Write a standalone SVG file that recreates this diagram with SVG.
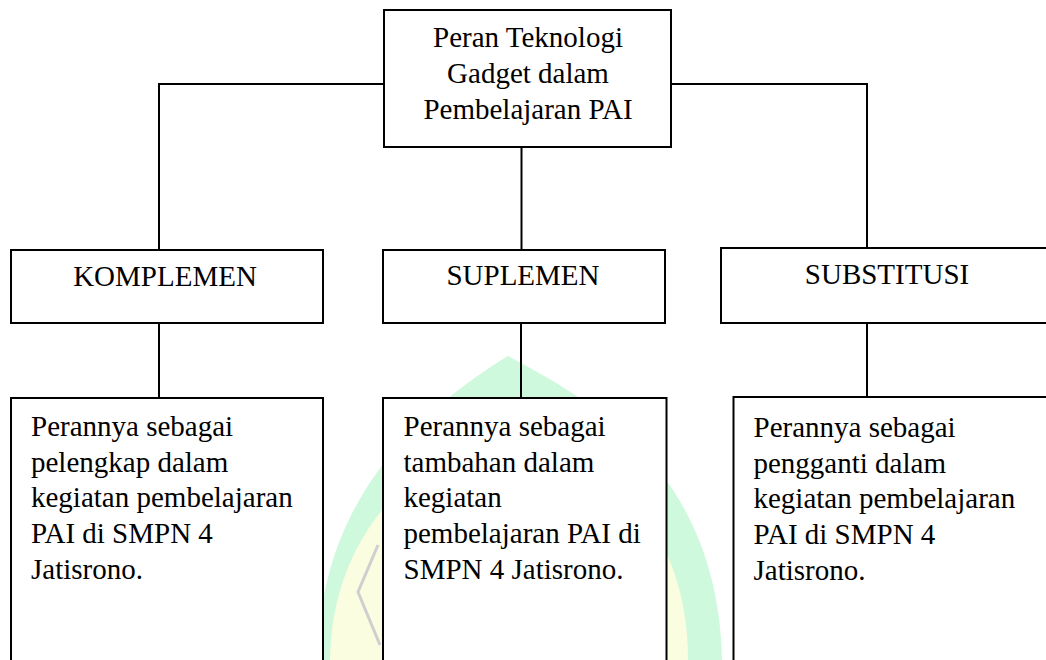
<svg xmlns="http://www.w3.org/2000/svg" width="1046" height="660" viewBox="0 0 1046 660">
<style>
.box{fill:#fff;stroke:#000;stroke-width:2}
.ln{fill:none;stroke:#000;stroke-width:2}
.t{font-family:"Liberation Serif","Times New Roman",serif;font-size:29px;fill:#000}
.c{text-anchor:middle}
</style>
<rect x="0" y="0" width="1046" height="660" fill="#fff"/>
<g id="watermark">
<path d="M508 356 C590 400 718 470 722 660 L318 660 C318 500 420 410 508 356 Z" fill="#cff9dc"/>
<path d="M512 410 C585 450 688 510 688 660 L330 660 C332 520 430 455 512 410 Z" fill="#fafde0"/>
<polyline points="378,545 358,592 380,645" fill="none" stroke="#cfcfcf" stroke-width="3"/>
</g>
<g id="connectors">
<polyline class="ln" points="384,84 159,84 159,250"/>
<polyline class="ln" points="671,84 867,84 867,248"/>
<line class="ln" x1="521.5" y1="147" x2="521.5" y2="250"/>
<line class="ln" x1="159" y1="323" x2="159" y2="398"/>
<line class="ln" x1="521" y1="323" x2="521" y2="398"/>
<line class="ln" x1="867" y1="323" x2="867" y2="397"/>
</g>
<g id="root">
<rect class="box" x="384" y="10" width="287" height="137"/>
<text class="t c" x="528" y="47">Peran Teknologi</text>
<text class="t c" x="528" y="83">Gadget dalam</text>
<text class="t c" x="528" y="119">Pembelajaran PAI</text>
</g>
<g id="komplemen">
<rect class="box" x="11" y="250" width="312" height="73"/>
<text class="t c" x="165" y="285.5">KOMPLEMEN</text>
</g>
<g id="suplemen">
<rect class="box" x="383" y="250" width="282" height="73"/>
<text class="t c" x="523" y="285">SUPLEMEN</text>
</g>
<g id="substitusi">
<rect class="box" x="721" y="248" width="340" height="75"/>
<text class="t c" x="887" y="283.5">SUBSTITUSI</text>
</g>
<g id="desc-komplemen">
<rect class="box" x="11" y="398" width="312" height="280"/>
<text class="t" x="31" y="436">Perannya sebagai</text>
<text class="t" x="31" y="471.7">pelengkap dalam</text>
<text class="t" x="31" y="507.4">kegiatan pembelajaran</text>
<text class="t" x="31" y="543.1">PAI di SMPN 4</text>
<text class="t" x="31" y="578.8">Jatisrono.</text>
</g>
<g id="desc-suplemen">
<rect class="box" x="383" y="398" width="283.5" height="280"/>
<text class="t" x="403.5" y="436">Perannya sebagai</text>
<text class="t" x="403.5" y="471.7">tambahan dalam</text>
<text class="t" x="403.5" y="507.4">kegiatan</text>
<text class="t" x="403.5" y="543.1">pembelajaran PAI di</text>
<text class="t" x="403.5" y="578.8">SMPN 4 Jatisrono.</text>
</g>
<g id="desc-substitusi">
<rect class="box" x="733.5" y="397" width="340" height="280"/>
<text class="t" x="753.5" y="437">Perannya sebagai</text>
<text class="t" x="753.5" y="472.7">pengganti dalam</text>
<text class="t" x="753.5" y="508.4">kegiatan pembelajaran</text>
<text class="t" x="753.5" y="544.1">PAI di SMPN 4</text>
<text class="t" x="753.5" y="579.8">Jatisrono.</text>
</g>
</svg>
